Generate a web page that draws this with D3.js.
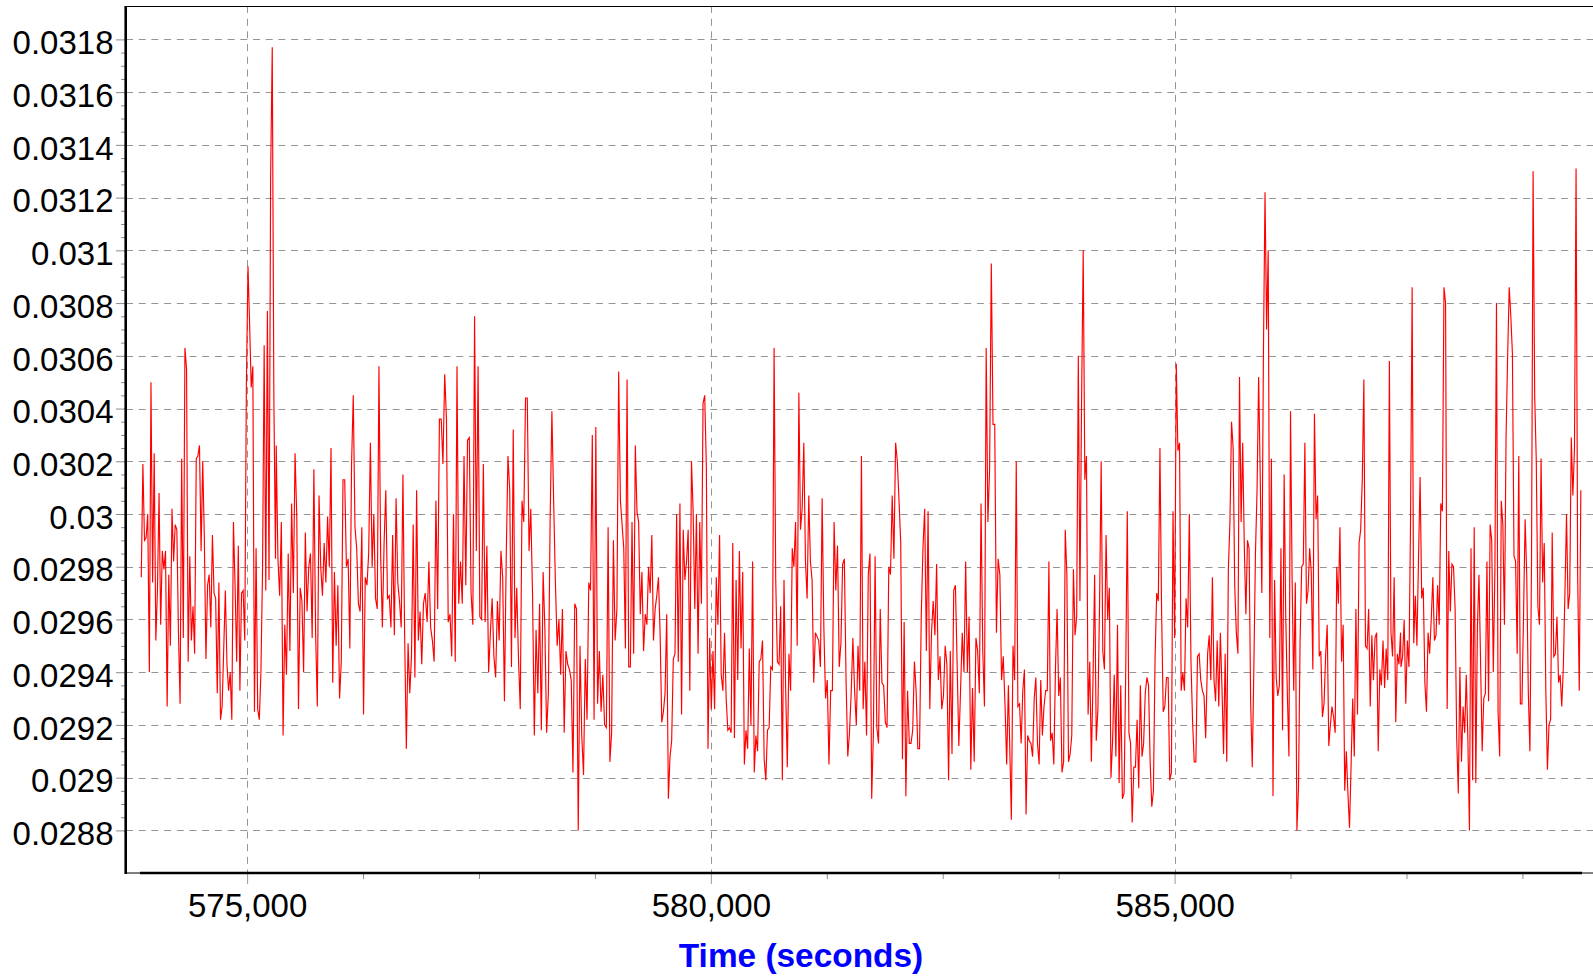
<!DOCTYPE html>
<html><head><meta charset="utf-8">
<script src="https://cdn.jsdelivr.net/npm/d3@7"></script>
<style>
body{margin:0;background:#fff;}
svg{display:block;}
text{font-family:"Liberation Sans",Arial,Helvetica,sans-serif;}
</style>
</head><body>
<svg id="chart" width="1593" height="977"></svg>
<script>
// ---------------- data ----------------
const yTicks = [0.0288,0.0290,0.0292,0.0294,0.0296,0.0298,0.0300,0.0302,0.0304,0.0306,0.0308,0.0310,0.0312,0.0314,0.0316,0.0318];
const xTicks = [575000,580000,585000];
const xTitle = "Time (seconds)";

// time span (seconds) covered by each block of samples
const segmentStart = [573859,575314,576941,579061,581163,583240,585356,587441];
const segmentEnd   = [575306,576920,579025,581127,583208,585335,587436,589380];

const values1 = [0.02976,0.03019,0.02990,0.02991,0.03000,0.02940,0.03050,0.02974,0.03023,0.02952,
0.02971,0.03008,0.02958,0.02986,0.02979,0.02986,0.02927,0.02977,0.02950,0.03002,
0.02982,0.02996,0.02994,0.02955,0.02928,0.03021,0.02953,0.03063,0.03055,0.02944,
0.02984,0.02952,0.02965,0.02947,0.03021,0.03022,0.03026,0.02986,0.03020,0.02991,
0.02945,0.02973,0.02977,0.02957,0.02992,0.02970,0.02968,0.02932,0.02974,0.02922,
0.02927,0.02949,0.02971,0.02943,0.02933,0.02940,0.02922,0.02997,0.02973,0.02944,
0.02988,0.02933,0.02970,0.02971,0.02952,0.03049,0.03094,0.03072,0.03048,0.03056,
0.02925,0.02987,0.02926,0.02922,0.02940,0.02979,0.03064,0.02971,0.03077,0.02975,
0.03128,0.03177,0.03044,0.02983];

const values2 = [0.03026,0.02983,0.02969,0.02997,0.02916,0.02958,0.02939,0.02985,0.02948,0.03004,
0.02970,0.03023,0.02999,0.02926,0.02972,0.02967,0.02940,0.02993,0.02963,0.02980,
0.02985,0.02953,0.03017,0.02955,0.02927,0.03007,0.02980,0.02969,0.02989,0.02974,
0.02999,0.02980,0.03025,0.02936,0.02978,0.02950,0.02973,0.02930,0.02944,0.03013,
0.03013,0.02980,0.02983,0.02949,0.03019,0.03045,0.02995,0.02987,0.02966,0.02963,
0.02995,0.02924,0.02976,0.02973,0.02985,0.03027,0.02980,0.03000,0.02968,0.02964,
0.03056,0.02984,0.02957,0.02989,0.03009,0.02968,0.02969,0.02957,0.02992,0.02954,
0.03006,0.02974,0.02967,0.02957,0.03015,0.02954,0.02911,0.02951,0.02932,0.02946,
0.02996,0.02938,0.03009,0.02952,0.02963,0.02943,0.02966,0.02970];

const values3 = [0.02959,0.02982,0.02957,0.02952,0.02944,0.03005,0.02964,0.03036,0.03036,0.03019,
0.03053,0.03036,0.02959,0.02962,0.02946,0.03000,0.02944,0.03056,0.02966,0.02982,
0.02966,0.03022,0.02973,0.03028,0.03029,0.02970,0.02958,0.03075,0.02986,0.03056,
0.02961,0.02960,0.03019,0.02959,0.02988,0.02940,0.02955,0.02968,0.02946,0.02938,
0.02967,0.02952,0.02986,0.02976,0.02929,0.02983,0.03022,0.03009,0.02942,0.03032,
0.02953,0.02972,0.02945,0.02926,0.03005,0.02997,0.03044,0.03044,0.02986,0.03002,
0.02969,0.02916,0.02956,0.02932,0.02966,0.02918,0.02978,0.02957,0.02917,0.02932,
0.02998,0.03039,0.03005,0.02974,0.02950,0.02960,0.02939,0.02964,0.02917,0.02948,
0.02943,0.02941,0.02937,0.02902,0.02966,0.02964,0.02880,0.02950,0.02916,0.02901,
0.02945,0.02922,0.02974,0.02971,0.03030,0.02922,0.03033,0.02928,0.02948,0.02925,
0.02939,0.02920,0.02919,0.02995,0.02906,0.02917,0.02990,0.02952,0.02964,0.03054,
0.03005];

const values4 = [0.02987,0.02949,0.03051,0.02942,0.02942,0.02997,0.02947,0.03026,0.03001,
0.02997,0.02962,0.02978,0.02948,0.02962,0.02958,0.02980,0.02970,0.02992,0.02952,
0.02964,0.02969,0.02976,0.02955,0.02921,0.02925,0.02932,0.02962,0.02892,0.02908,
0.02914,0.02945,0.02947,0.03000,0.02944,0.03004,0.02924,0.02994,0.02975,0.02982,
0.02994,0.02933,0.03020,0.03001,0.02964,0.03000,0.02947,0.02997,0.02966,0.03042,
0.03045,0.03018,0.02911,0.02953,0.02926,0.02948,0.02926,0.02976,0.02958,0.02992,
0.02939,0.02933,0.02955,0.02930,0.02918,0.02919,0.02917,0.02989,0.02915,0.02975,
0.02937,0.02986,0.02949,0.02978,0.02905,0.02918,0.02911,0.02949,0.02920,0.02982,
0.02902,0.02916,0.02910,0.02944,0.02945,0.02952,0.02907,0.02899,0.02918,0.02919,
0.02942,0.02941,0.03063,0.02975,0.02944,0.02943,0.02965,0.02899,0.02975,0.02934,
0.02904,0.02947,0.02933,0.02987,0.02980,0.02997,0.02950,0.03046,0.02994,0.03002,
0.03027,0.02982,0.02968,0.03007,0.02982,0.02975,0.02936,0.02955];

const values5 = [0.02952,0.02942,0.03006,0.02957,0.02930,0.02937,0.02905,0.02933,0.02933,
0.02997,0.02971,0.02988,0.02942,0.02951,0.02981,0.02983,0.02937,0.02908,0.02917,
0.02932,0.02953,0.02933,0.02920,0.02950,0.02933,0.03022,0.02926,0.02944,0.02916,
0.02977,0.02985,0.02892,0.02917,0.02984,0.02919,0.02913,0.02964,0.02936,0.02935,
0.02921,0.02919,0.02980,0.02977,0.03007,0.02983,0.03027,0.03020,0.03005,0.02989,
0.02907,0.02959,0.02893,0.02933,0.02913,0.02913,0.02918,0.02944,0.02933,0.02911,
0.02911,0.02961,0.02987,0.03002,0.02948,0.03001,0.02926,0.02955,0.02967,0.02954,
0.02981,0.02937,0.02946,0.02926,0.02931,0.02950,0.02943,0.02899,0.02948,0.02909,
0.02971,0.02973,0.02943,0.02912,0.02933,0.02955,0.02940,0.02982,0.02940,0.02961,
0.02903,0.02934,0.02906,0.02953,0.02948,0.02932,0.03004,0.02948,0.02927,0.03063,
0.02997,0.03017,0.03095,0.03034,0.03034,0.02955,0.02983,0.02977,0.02937,0.02946,
0.02928,0.02905,0.02935];

const values6 = [0.02884,0.02950,0.02937,0.03020,0.02927,0.02928,0.02913,0.02933,0.02941,0.02886,
0.02916,0.02914,0.02913,0.02908,0.02930,0.02938,0.02913,0.02905,0.02937,0.02916,
0.02927,0.02933,0.02933,0.02982,0.02914,0.02917,0.02905,0.02941,0.02964,0.02931,
0.02938,0.02902,0.02906,0.02994,0.02977,0.02906,0.02909,0.02916,0.02979,0.02954,
0.02961,0.03060,0.02967,0.03043,0.03100,0.03013,0.03022,0.02924,0.02944,0.02906,
0.02937,0.02977,0.02914,0.02926,0.02965,0.03020,0.02948,0.02941,0.02992,0.02960,
0.02972,0.02900,0.02914,0.02939,0.02908,0.02958,0.02898,0.02935,0.02892,0.02894,
0.02938,0.03001,0.02917,0.02913,0.02883,0.02904,0.02904,0.02922,0.02896,0.02935,
0.02908,0.02913,0.02932,0.02938,0.02935,0.02906,0.02889,0.02895,0.02945,0.02970,
0.02967,0.03025,0.02963,0.02925,0.02927,0.02938,0.02938,0.02899,0.02902,0.03001,
0.02953,0.03057,0.03024,0.03027,0.02933,0.02940,0.02933,0.02968,0.02957,0.03000,
0.02944,0.02921,0.02906,0.02906,0.02946,0.02947,0.02937,0.02933,0.02931,0.02915];

const values7 = [0.02947,0.02954,0.02937,0.02976,0.02937,0.02929,0.02952,0.02927,0.02955,
0.02934,0.02909,0.02947,0.02906,0.02979,0.02997,0.03035,0.03025,0.02973,0.02955,
0.02947,0.03052,0.02997,0.03027,0.02988,0.02962,0.02990,0.02987,0.02928,0.02904,
0.02942,0.02985,0.03009,0.03052,0.03014,0.02970,0.03061,0.03122,0.03070,0.03100,
0.02953,0.03021,0.02893,0.02975,0.02938,0.02931,0.02935,0.02987,0.02918,0.03015,
0.02961,0.02932,0.02908,0.03039,0.02975,0.02933,0.02974,0.02880,0.02896,0.02952,
0.02980,0.02981,0.03027,0.02966,0.02971,0.02987,0.02978,0.02941,0.03038,0.02998,
0.03007,0.02946,0.02948,0.02923,0.02928,0.02946,0.02958,0.02912,0.02920,0.02927,
0.02923,0.02917,0.02980,0.02966,0.02995,0.02944,0.02958,0.02895,0.02910,0.02894,
0.02881,0.02905,0.02930,0.02908,0.02964,0.02924,0.02989,0.02994,0.03013,0.03051,
0.02950,0.02949,0.02964,0.02927,0.02954,0.02937,0.02953,0.02955,0.02910,0.02941,
0.02935,0.02952,0.02934,0.02949,0.02937,0.03058,0.02955,0.02946,0.02976,0.02921,
0.02947,0.02943,0.02955];

const values8 = [0.02942,0.02946,0.02960,0.02928,0.02952,0.02942,0.02998,0.03086,0.02951,0.02969,
0.02950,0.02983,0.03014,0.02968,0.02972,0.02936,0.02925,0.02955,0.02947,0.02960,
0.02976,0.02952,0.02954,0.02973,0.02958,0.03004,0.03001,0.03086,0.03080,0.02926,
0.02986,0.02963,0.02981,0.02980,0.02964,0.02915,0.02894,0.02942,0.02906,0.02927,
0.02917,0.02939,0.02915,0.02880,0.02987,0.02899,0.02995,0.02898,0.02957,0.02977,
0.02944,0.02910,0.02930,0.02932,0.02982,0.02929,0.02996,0.02990,0.02940,0.02979,
0.03080,0.02925,0.02908,0.03005,0.02996,0.02958,0.03029,0.03060,0.03086,0.03075,
0.03061,0.02984,0.02982,0.02947,0.03022,0.02928,0.02928,0.02962,0.02998,0.02977,
0.02932,0.02910,0.02982,0.03130,0.03045,0.03020,0.02965,0.02958,0.03021,0.02974,
0.02989,0.02933,0.02903,0.02920,0.02922,0.02993,0.02946,0.02947,0.02961,0.02936,
0.02939,0.02927,0.02942,0.02970,0.03000,0.02964,0.02970,0.03029,0.03007,0.03025,
0.03131,0.02977,0.02933,0.03009];

const segmentValues = [values1,values2,values3,values4,values5,values6,values7,values8];

// ---------------- build series ----------------
const series = [];
segmentValues.forEach((vals, i) => {
  const t0 = segmentStart[i], t1 = segmentEnd[i], n = vals.length;
  vals.forEach((v, j) => series.push({t: t0 + (t1 - t0) * j / (n - 1), v}));
});

// ---------------- layout ----------------
const svg = d3.select("#chart");
const plot = {left: 126, top: 6, right: 1593, bottom: 873};
const axisStartX = 140, axisEndX = 1582;

const x = d3.scaleLinear().domain([575000, 585000]).range([247.1, 1174.6]);
const y = d3.scaleLinear().domain([0.0288, 0.0318]).range([830.4, 39.4]);

const gridColor = "#959595";
const dash = "7,5.7";

// gridlines
svg.append("g").selectAll("line").data(yTicks).join("line")
  .attr("x1", plot.left).attr("x2", plot.right)
  .attr("y1", d => Math.round(y(d)) + 0.5).attr("y2", d => Math.round(y(d)) + 0.5)
  .attr("stroke", gridColor).attr("stroke-width", 1).attr("stroke-dasharray", dash);
svg.append("g").selectAll("line").data(xTicks).join("line")
  .attr("x1", d => Math.round(x(d)) + 0.5).attr("x2", d => Math.round(x(d)) + 0.5)
  .attr("y1", plot.top).attr("y2", plot.bottom)
  .attr("stroke", gridColor).attr("stroke-width", 1).attr("stroke-dasharray", dash);

// clip
svg.append("clipPath").attr("id", "clip").append("rect")
  .attr("x", plot.left).attr("y", plot.top)
  .attr("width", plot.right - plot.left).attr("height", plot.bottom - plot.top);

// data line
const line = d3.line().x(d => x(d.t)).y(d => y(d.v));
svg.append("path").datum(series)
  .attr("clip-path", "url(#clip)")
  .attr("fill", "none").attr("stroke", "#ff0000").attr("stroke-width", 1.15)
  .attr("stroke-linejoin", "miter").attr("d", line);

// plot border (thin)
svg.append("line").attr("x1", plot.left).attr("x2", plot.right)
  .attr("y1", plot.top + 0.5).attr("y2", plot.top + 0.5).attr("stroke", "#000").attr("stroke-width", 1.2);
svg.append("line").attr("x1", plot.left).attr("x2", plot.right)
  .attr("y1", plot.bottom).attr("y2", plot.bottom).attr("stroke", "#000").attr("stroke-width", 1);

// y axis
const minorY = [];
for (let i = 0; i < yTicks.length - 1; i++) {
  const step = (yTicks[i + 1] - yTicks[i]) / 4;
  for (let k = 1; k < 4; k++) minorY.push(yTicks[i] + k * step);
}
const gyMinor = svg.append("g").attr("transform", `translate(${plot.left},0)`)
  .call(d3.axisLeft(y).tickValues(minorY).tickSize(5).tickFormat(""));
gyMinor.select(".domain").remove();
gyMinor.selectAll("line").attr("stroke", "#8c8c8c");

const gy = svg.append("g").attr("transform", `translate(${plot.left},0)`)
  .call(d3.axisLeft(y).tickValues(yTicks).tickSize(10)
    .tickFormat(d => String(+d.toFixed(4))));
gy.select(".domain").remove();
gy.selectAll("line").attr("stroke", "#8c8c8c");
gy.selectAll("text").attr("x", -12.5).attr("dy", "0.43em")
  .attr("font-size", 33).attr("fill", "#000")
  .style("font-family", '"Liberation Sans",Arial,sans-serif');

// x axis
const minorX = d3.range(573750, 589500, 1250).filter(t => !xTicks.includes(t) && x(t) >= axisStartX && x(t) <= axisEndX);
const gxMinor = svg.append("g").attr("transform", `translate(0,${plot.bottom})`)
  .call(d3.axisBottom(x).tickValues(minorX).tickSize(6).tickFormat(""));
gxMinor.select(".domain").remove();
gxMinor.selectAll("line").attr("stroke", "#8c8c8c");

const gx = svg.append("g").attr("transform", `translate(0,${plot.bottom})`)
  .call(d3.axisBottom(x).tickValues(xTicks).tickSize(11).tickFormat(d3.format(",")));
gx.select(".domain").remove();
gx.selectAll("line").attr("stroke", "#9a9a9a");
gx.selectAll("text").attr("y", 44).attr("dy", 0)
  .attr("font-size", 33).attr("fill", "#000")
  .style("font-family", '"Liberation Sans",Arial,sans-serif');

// thick axis lines
svg.append("line").attr("x1", 125.7).attr("x2", 125.7)
  .attr("y1", plot.top).attr("y2", plot.bottom + 1)
  .attr("stroke", "#000").attr("stroke-width", 2.6);
svg.append("line").attr("x1", axisStartX).attr("x2", axisEndX)
  .attr("y1", plot.bottom).attr("y2", plot.bottom)
  .attr("stroke", "#000").attr("stroke-width", 2.6);

// axis title
svg.append("text").attr("x", 801).attr("y", 966.5)
  .attr("text-anchor", "middle").attr("font-size", 33.4).attr("font-weight", "bold")
  .attr("fill", "#0000ff").text(xTitle);
</script>
</body></html>
